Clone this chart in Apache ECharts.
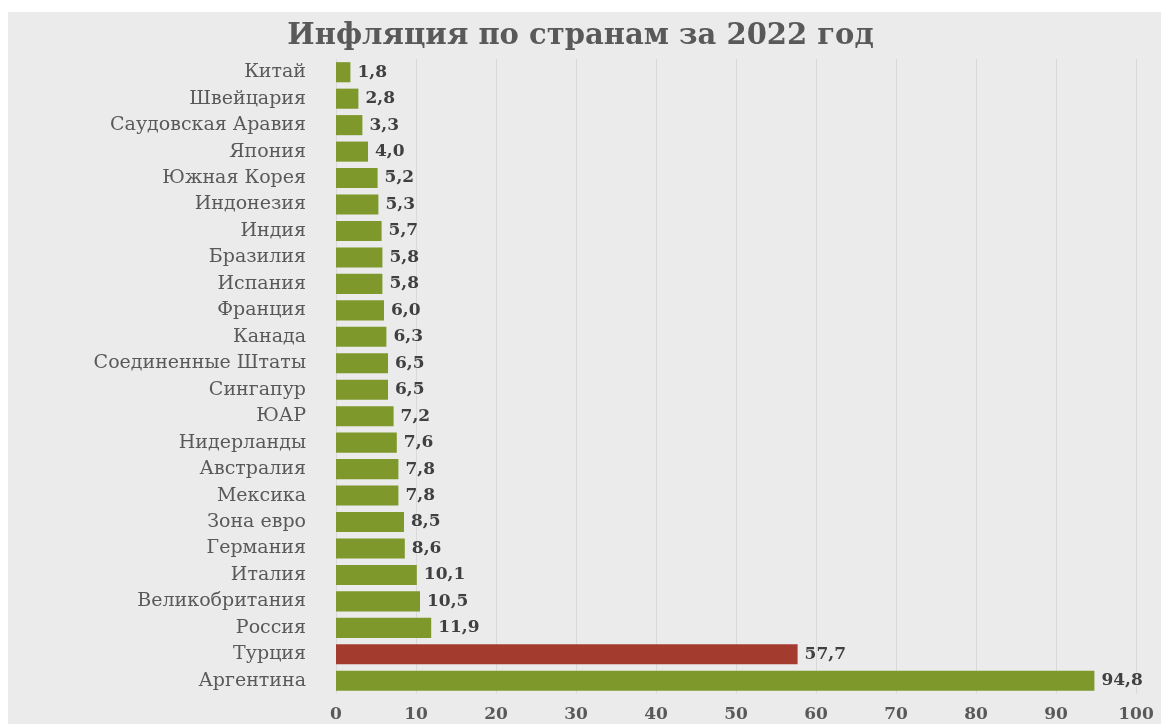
<!DOCTYPE html>
<html>
<head>
<meta charset="utf-8">
<script src="https://cdn.jsdelivr.net/npm/echarts@6/dist/echarts.min.js"></script>
<style>
  html, body { margin: 0; padding: 0; background: #ffffff; }
  #chart { width: 1161px; height: 724px; }
</style>
</head>
<body>
<div id="chart"></div>
<script>
// Inflation by country, 2022 (%), listed top to bottom
const countries = [
  'Китай', 'Швейцария', 'Саудовская Аравия', 'Япония', 'Южная Корея',
  'Индонезия', 'Индия', 'Бразилия', 'Испания', 'Франция', 'Канада',
  'Соединенные Штаты', 'Сингапур', 'ЮАР', 'Нидерланды', 'Австралия',
  'Мексика', 'Зона евро', 'Германия', 'Италия', 'Великобритания',
  'Россия', 'Турция', 'Аргентина'
];
const inflation = [
  1.8, 2.8, 3.3, 4.0, 5.2, 5.3, 5.7, 5.8, 5.8, 6.0, 6.3,
  6.5, 6.5, 7.2, 7.6, 7.8, 7.8, 8.5, 8.6, 10.1, 10.5,
  11.9, 57.7, 94.8
];
const highlighted = 'Турция';
const titleText = 'Инфляция по странам за 2022 год';

const GREEN = '#7e982b';
const RED = '#a43b2f';
const SERIF = '"DejaVu Serif", "Liberation Serif", serif';

const chart = echarts.init(document.getElementById('chart'));
chart.setOption({
  animation: false,
  backgroundColor: '#ffffff',
  graphic: [{
    type: 'rect',
    z: -10,
    shape: { x: 8, y: 12, width: 1153, height: 712 },
    style: { fill: '#ebebeb' }
  }],
  title: {
    text: titleText,
    left: 'center',
    top: 17,
    textStyle: { fontFamily: SERIF, fontSize: 29, fontWeight: 'bold', color: '#595959' }
  },
  grid: { left: 336, right: 25, top: 59, bottom: 30, containLabel: false },
  xAxis: {
    type: 'value',
    min: 0, max: 100, interval: 10,
    axisLine: { show: false },
    axisTick: { show: false },
    splitLine: { show: true, lineStyle: { color: '#d9d9d9', width: 1 } },
    axisLabel: {
      margin: 12,
      fontFamily: SERIF, fontSize: 17, fontWeight: 'bold', color: '#595959'
    }
  },
  yAxis: {
    type: 'category',
    inverse: true,
    data: countries,
    axisLine: { show: false },
    axisTick: { show: false },
    axisLabel: { margin: 30, fontFamily: SERIF, fontSize: 19, color: '#595959' }
  },
  series: [{
    type: 'bar',
    barCategoryGap: '24%',
    data: inflation.map((v, i) => ({
      value: v,
      itemStyle: { color: countries[i] === highlighted ? RED : GREEN }
    })),
    label: {
      show: true,
      position: 'right',
      distance: 7,
      formatter: p => p.value.toFixed(1).replace('.', ','),
      fontFamily: SERIF, fontSize: 17, fontWeight: 'bold', color: '#404040'
    }
  }]
});
</script>
</body>
</html>
